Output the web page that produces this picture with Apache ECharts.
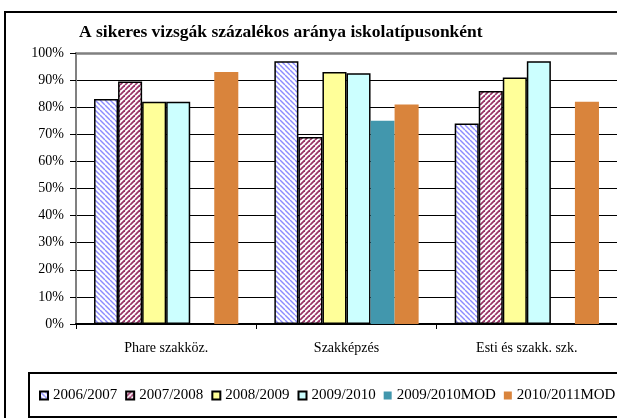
<!DOCTYPE html>
<html>
<head>
<meta charset="utf-8">
<script src="https://cdn.jsdelivr.net/npm/echarts@6/dist/echarts.min.js"></script>
<style>
  html, body { margin: 0; padding: 0; background: #fff; }
  #chart { width: 617px; height: 418px; }
</style>
</head>
<body>
<div id="chart"></div>
<script>
// data
const categories = ['Phare szakköz.', 'Szakképzés', 'Esti és szakk. szk.'];
const seriesNames = ['2006/2007', '2007/2008', '2008/2009', '2009/2010', '2009/2010MOD', '2010/2011MOD'];
const v2006 = [83, 97, 74];
const v2007 = [89.5, 69, 86];
const v2008 = [82, 93, 91];
const v2009 = [82, 92.5, 97];
const v2009mod = [null, 75, null];
const v2010mod = [93, 81, 82];
const yTicks = [0, 10, 20, 30, 40, 50, 60, 70, 80, 90, 100];

const serif = 'Liberation Serif';

// diagonal hatch pattern, dir 1 = "\" , -1 = "/"
function hatch(color, dir, lw) {
  const s = 5;
  const c = document.createElement('canvas');
  c.width = c.height = s;
  const g = c.getContext('2d');
  g.fillStyle = '#fff';
  g.fillRect(0, 0, s, s);
  g.strokeStyle = color;
  g.lineWidth = lw;
  for (let k = -1; k <= 1; k++) {
    g.beginPath();
    if (dir > 0) { g.moveTo(k * s, 0); g.lineTo(k * s + s, s); }
    else { g.moveTo(k * s + s, 0); g.lineTo(k * s, s); }
    g.stroke();
  }
  return { image: c, repeat: 'repeat' };
}

const styles = [
  { color: hatch('#8c8cff', 1, 1.4), borderColor: '#000', borderWidth: 1.5 },
  { color: hatch('#993366', -1, 1.8), borderColor: '#000', borderWidth: 1.5 },
  { color: '#ffff99', borderColor: '#000', borderWidth: 1.5 },
  { color: '#ccffff', borderColor: '#000', borderWidth: 1.5 },
  { color: '#4297ad' },
  { color: '#d9843c' }
];
const values = [v2006, v2007, v2008, v2009, v2009mod, v2010mod];

const chart = echarts.init(document.getElementById('chart'));

chart.setOption({
  animation: false,
  backgroundColor: '#fff',
  title: {
    text: 'A sikeres vizsgák százalékos aránya iskolatípusonként',
    left: 79,
    top: 23,
    padding: 0,
    textStyle: { fontFamily: serif, fontSize: 17.5, fontWeight: 'bold', color: '#000' }
  },
  legend: {
    left: 39,
    top: 388,
    itemWidth: 8,
    itemHeight: 8,
    itemGap: 8,
    padding: 0,
    icon: 'rect',
    textStyle: { fontFamily: serif, fontSize: 15, color: '#000' },
    data: seriesNames
  },
  grid: { left: 76, right: -3, top: 53, bottom: 94 },
  xAxis: [{
    type: 'category',
    data: categories,
    axisLine: { lineStyle: { color: '#000', width: 2 } },
    axisTick: { show: true, length: 5, lineStyle: { color: '#000' } },
    axisLabel: { margin: 17, fontFamily: serif, fontSize: 14, color: '#000' }
  }, {
    type: 'category',
    position: 'top',
    data: categories,
    axisLine: { lineStyle: { color: '#808080', width: 2.5 } },
    axisTick: { show: false },
    axisLabel: { show: false }
  }],
  yAxis: {
    type: 'value',
    min: yTicks[0],
    max: yTicks[yTicks.length - 1],
    interval: 10,
    axisLine: { show: true, lineStyle: { color: '#808080', width: 2 } },
    axisTick: { show: true, length: 6, lineStyle: { color: '#000' } },
    axisLabel: { margin: 12, fontFamily: serif, fontSize: 14, color: '#000', formatter: '{value}%' },
    splitLine: { lineStyle: { color: '#000', width: 1 } }
  },
  series: seriesNames.map((name, i) => ({
    name: name,
    type: 'bar',
    xAxisIndex: 0,
    data: values[i],
    barGap: '0%',
    barCategoryGap: '20%',
    itemStyle: styles[i]
  })),
  graphic: [
    {
      type: 'rect',
      shape: { x: 5, y: 12, width: 700, height: 500 },
      style: { fill: 'none', stroke: '#000', lineWidth: 2 },
      silent: true
    },
    {
      type: 'rect',
      shape: { x: 29, y: 373, width: 700, height: 44 },
      style: { fill: 'none', stroke: '#000', lineWidth: 2 },
      silent: true
    }
  ]
});
</script>
</body>
</html>
